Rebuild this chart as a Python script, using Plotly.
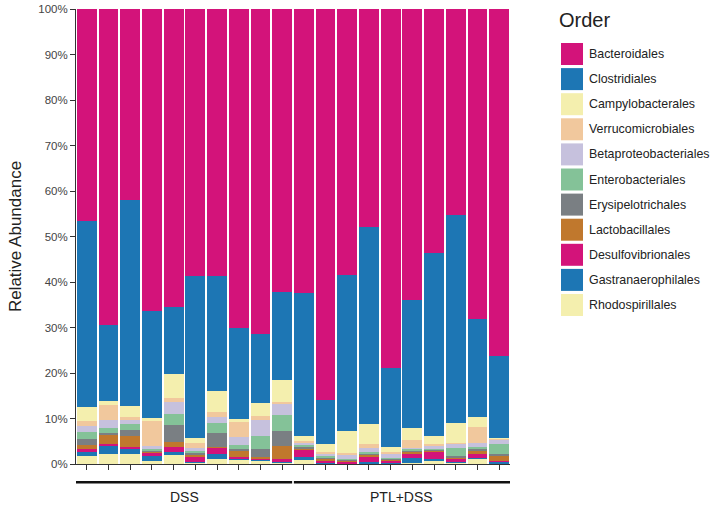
import plotly.graph_objects as go

# Samples (10 per treatment group)
samples = [f"DSS{i}" for i in range(1, 11)] + [f"PTL+DSS{i}" for i in range(1, 11)]
groups = ["DSS", "PTL+DSS"]

orders = [
    "Bacteroidales", "Clostridiales", "Campylobacterales", "Verrucomicrobiales",
    "Betaproteobacteriales", "Enterobacteriales", "Erysipelotrichales",
    "Lactobacillales", "Desulfovibrionales", "Gastranaerophilales", "Rhodospirillales",
]
colors = [
    "#D3137A", "#1D76B4", "#F4EFAE", "#F1C89D", "#C6C1DD", "#84C298",
    "#7A7F83", "#C0782D", "#D3137A", "#1D76B4", "#F4EFAE",
]

# Relative abundance (%) per order, one value per sample
bacteroidales = [46.5, 69.5, 42.0, 66.4, 65.4, 58.7, 58.7, 70.0, 71.5, 62.2,
                 62.4, 85.9, 58.5, 48.0, 79.0, 63.9, 53.7, 45.3, 68.2, 76.3]
clostridiales = [40.9, 16.6, 45.2, 23.5, 14.9, 35.6, 25.2, 20.2, 15.1, 19.3,
                 31.4, 9.7, 34.2, 43.2, 17.3, 28.1, 40.1, 45.6, 21.4, 17.9]
campylobacterales = [3.1, 0.9, 2.4, 0.7, 5.3, 1.0, 4.6, 0.4, 2.9, 4.8,
                     1.1, 1.7, 4.9, 4.4, 1.0, 2.7, 1.7, 4.4, 2.3, 0.3]
verrucomicrobiales = [1.1, 3.3, 0.7, 5.5, 0.7, 1.2, 1.1, 3.4, 0.9, 0.4,
                      0.4, 0.3, 0.4, 0.8, 0.5, 1.7, 0.6, 0.3, 3.4, 0.2]
betaproteobacteriales = [1.3, 1.8, 1.0, 0.7, 2.6, 0.6, 1.3, 1.8, 3.5, 2.6,
                         0.5, 0.7, 0.8, 0.9, 0.8, 0.3, 0.4, 0.9, 1.0, 0.9]
enterobacteriales = [1.6, 1.0, 1.2, 0.2, 2.6, 0.4, 2.2, 0.9, 2.9, 3.5,
                     0.5, 0.2, 0.2, 0.4, 0.2, 0.3, 0.3, 1.8, 0.4, 2.3]
erysipelotrichales = [1.3, 0.4, 1.3, 0.2, 3.7, 0.5, 3.1, 0.4, 1.6, 3.3,
                      0.3, 0.3, 0.2, 0.3, 0.2, 0.2, 0.2, 0.2, 0.3, 0.3]
lactobacillales = [1.0, 2.0, 2.5, 0.3, 1.0, 0.5, 0.2, 1.3, 0.4, 2.9,
                   0.3, 0.5, 0.2, 0.3, 0.2, 0.5, 0.3, 0.2, 0.8, 1.1]
desulfovibrionales = [0.6, 0.5, 0.5, 0.7, 1.2, 1.0, 1.5, 0.3, 0.3, 0.5,
                      1.6, 0.4, 0.4, 1.2, 0.4, 0.9, 1.6, 0.8, 0.8, 0.1]
gastranaerophilales = [0.8, 1.7, 0.9, 1.1, 0.6, 0.2, 0.9, 0.5, 0.2, 0.2,
                       0.6, 0.1, 0.1, 0.3, 0.2, 1.1, 0.3, 0.2, 0.3, 0.5]
rhodospirillales = [1.8, 2.3, 2.3, 0.7, 2.0, 0.3, 1.2, 0.8, 0.7, 0.3,
                    0.9, 0.2, 0.1, 0.2, 0.2, 0.3, 0.8, 0.3, 1.1, 0.1]

series = [bacteroidales, clostridiales, campylobacterales, verrucomicrobiales,
          betaproteobacteriales, enterobacteriales, erysipelotrichales,
          lactobacillales, desulfovibrionales, gastranaerophilales, rhodospirillales]

yticks = [0, 10, 20, 30, 40, 50, 60, 70, 80, 90, 100]
ytick_text = [f"{v}%" for v in yticks]

FONT = "Liberation Sans, Arial, sans-serif"

fig = go.Figure()
# stack from the bottom: last order in the list sits lowest
for name, vals, col in reversed(list(zip(orders, series, colors))):
    fig.add_trace(go.Bar(
        x=samples, y=vals, name=name, marker=dict(color=col, line=dict(width=0)),
        showlegend=False,
    ))

# plot area in pixels (used to place the hand-built legend)
plot_l, plot_w = 76, 434
plot_top, plot_h = 9, 455

# group brackets under the axis
n_per = len(samples) // len(groups)
shapes, annotations = [], []
for gi, g in enumerate(groups):
    x0 = gi * n_per - 0.5 + (0.04 if gi else -0.1)
    x1 = (gi + 1) * n_per - 0.5 - (0.04 if gi == 0 else 0.0)
    shapes.append(dict(type="line", xref="x", yref="paper", x0=x0, x1=x1,
                       y0=-0.040, y1=-0.040, line=dict(color="#111111", width=2.5)))
    annotations.append(dict(xref="x", yref="paper", x=(gi * n_per + (gi + 1) * n_per - 1) / 2,
                            y=-0.072, text=g, showarrow=False, yanchor="middle",
                            font=dict(family=FONT, size=14, color="#222222")))

# legend built as swatches + labels on the right
annotations.append(dict(xref="paper", yref="paper", x=(557 - plot_l) / plot_w,
                        y=1 - (20 - plot_top) / plot_h, xanchor="left",
                        yanchor="middle", text="Order", showarrow=False,
                        font=dict(family=FONT, size=20, color="#222222")))
top_px, step_px, sw = 43, 25.1, 22
for i, (name, col) in enumerate(zip(orders, colors)):
    y0 = top_px + i * step_px
    py0 = 1 - (y0 - plot_top) / plot_h
    py1 = 1 - (y0 + sw - plot_top) / plot_h
    px0 = (561 - plot_l) / plot_w
    px1 = (561 + sw - plot_l) / plot_w
    shapes.append(dict(type="rect", xref="paper", yref="paper", x0=px0, x1=px1,
                       y0=py1, y1=py0, line=dict(width=0), fillcolor=col))
    annotations.append(dict(xref="paper", yref="paper", x=(587 - plot_l) / plot_w,
                            y=(py0 + py1) / 2, xanchor="left", yanchor="middle",
                            text=name, showarrow=False,
                            font=dict(family=FONT, size=12.4, color="#222222")))

fig.update_layout(
    barmode="stack", bargap=0.09,
    width=712, height=510,
    margin=dict(l=plot_l, r=712 - plot_l - plot_w, t=plot_top, b=510 - plot_top - plot_h,
                autoexpand=False),
    paper_bgcolor="white", plot_bgcolor="white",
    font=dict(family=FONT, color="#333333"),
    shapes=shapes, annotations=annotations,
    xaxis=dict(showticklabels=False, ticks="outside", ticklen=5, tickcolor="#333333",
               showline=True, linecolor="#333333", linewidth=1, showgrid=False,
               automargin=False, range=[-0.5, len(samples) - 0.5]),
    yaxis=dict(range=[0, 100], tickvals=yticks, ticktext=ytick_text, ticks="outside",
               ticklen=5, tickcolor="#333333", showline=True, linecolor="#333333",
               linewidth=1, showgrid=False, zeroline=False, automargin=False,
               tickfont=dict(size=11.5, color="#444444"),
               title=dict(text="Relative Abundance", font=dict(size=17, color="#222222"),
                          standoff=12)),
)

fig.write_html("out.html")
